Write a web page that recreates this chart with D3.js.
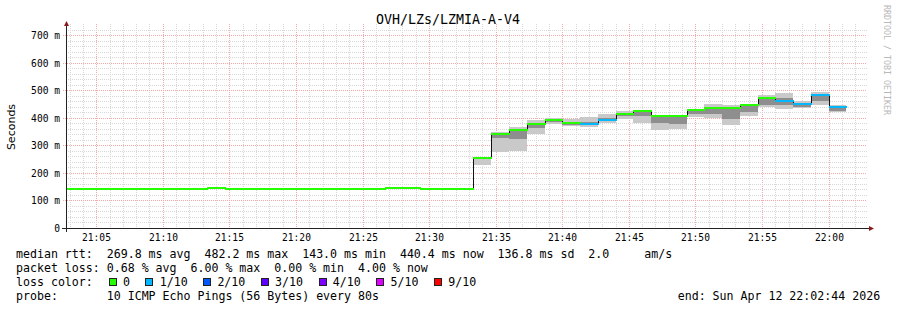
<!DOCTYPE html>
<html>
<head>
<meta charset="utf-8">
<script src="https://cdn.jsdelivr.net/npm/d3@7"></script>
<style>
  html, body { margin: 0; padding: 0; background: #fff; }
  svg { display: block; }
  text { font-family: "DejaVu Sans Mono", monospace; fill: #000; }
</style>
</head>
<body>
<div id="chart"></div>
<script>
const chartTitle = "OVH/LZs/LZMIA-A-V4";

// time window and 80 s steps
const windowStart = "21:02:44";
const windowEnd = "22:02:44";
const firstStep = "21:02:40";
const stepSeconds = 80;

// median rtt per step (ms)
const medianMs = [
  143, 143, 143, 143, 143, 143, 143, 143, 146, 143, 143, 143,
  143, 143, 143, 143, 143, 143, 145, 145, 143, 143, 143,
  253, 342, 357, 378, 390, 381, 377, 392, 415, 423, 406,
  408, 428, 437, 434, 446, 472, 459, 450, 482, 440
];
// loss bucket index per step (0 = no loss, 1 = 1/10 ...)
const lossLevel = [
  0, 0, 0, 0, 0, 0, 0, 0, 0, 0, 0, 0,
  0, 0, 0, 0, 0, 0, 0, 0, 0, 0, 0,
  0, 0, 0, 0, 0, 0, 1, 1, 0, 0, 0,
  0, 0, 0, 0, 0, 0, 1, 1, 1, 1
];
// smoke (ms): outer range and inner darker range, null = none
const smokeLo = [
  ...Array(23).fill(null),
  229, 277, 279, 341, 377, 370, 365, 382, 395, 380, 355,
  360, 404, 400, 373, 407, 439, 430, 434, 446, 420
];
const smokeHi = [
  ...Array(23).fill(null),
  255, 349, 365, 390, 400, 397, 404, 414, 425, 426, 410,
  410, 432, 449, 445, 450, 481, 491, 462, 493, 446
];
const coreLo = [
  ...Array(23).fill(null),
  null, 325, 323, 362, 384, 375, 372, 388, 405, 407, 380,
  378, 412, 415, 395, 422, 445, 445, 440, 460, 425
];
const coreHi = [
  ...Array(23).fill(null),
  null, 342, 355, 378, 390, 385, 385, 398, 415, 420, 406,
  406, 426, 437, 432, 446, 470, 470, 455, 482, 440
];

const yTicks = [0, 100, 200, 300, 400, 500, 600, 700];
const yTickLabels = ["0", "100 m", "200 m", "300 m", "400 m", "500 m", "600 m", "700 m"];
const xTicks = ["21:05", "21:10", "21:15", "21:20", "21:25", "21:30", "21:35", "21:40", "21:45", "21:50", "21:55", "22:00"];

const lossColors = ["#26ff00", "#00b8ff", "#0059ff", "#5e00ff", "#7e00ff", "#dd00ff", "#ff0000"];
const lossLabels = ["0", "1/10", "2/10", "3/10", "4/10", "5/10", "9/10"];

const legendRtt = "median rtt:  269.8 ms avg  482.2 ms max  143.0 ms min  440.4 ms now  136.8 ms sd  2.0     am/s";
const legendLoss = "packet loss: 0.68 % avg  6.00 % max  0.00 % min  4.00 % now";
const legendProbe = "probe:       10 ICMP Echo Pings (56 Bytes) every 80s";
const legendEnd = "end: Sun Apr 12 22:02:44 2026";
const watermark = "RRDTOOL / TOBI OETIKER";

const width = 897, height = 310;
const plot = { left: 66, right: 865, top: 24, bottom: 228 };

const parseHMS = d3.timeParse("%H:%M:%S");
const parseHM = d3.timeParse("%H:%M");
const keepSpaces = (s) => s.replace(/ /g, "\u00a0");

const x = d3.scaleTime()
  .domain([parseHMS(windowStart), parseHMS(windowEnd)])
  .range([plot.left, plot.right]);
const y = d3.scaleLinear().domain([0, 740]).range([plot.bottom, plot.top]);
const px = (v) => Math.round(v) + 0.5;

const svg = d3.select("#chart").append("svg")
  .attr("width", width).attr("height", height);
svg.append("rect").attr("width", width).attr("height", height).attr("fill", "#fff");

// grid
const grid = svg.append("g").attr("shape-rendering", "crispEdges");
const t0 = parseHMS(windowStart), t1 = parseHMS(windowEnd);
d3.timeMinute.every(1).range(t0, t1).forEach((t) => {
  const major = t.getMinutes() % 5 === 0;
  grid.append("line")
    .attr("x1", px(x(t))).attr("x2", px(x(t)))
    .attr("y1", plot.top).attr("y2", plot.bottom)
    .attr("stroke", major ? "#f4a8a8" : "#d8d8d8")
    .attr("stroke-dasharray", "1,1");
});
d3.range(20, 740, 20).forEach((v) => {
  const major = v % 100 === 0;
  grid.append("line")
    .attr("x1", major ? plot.left - 3 : plot.left).attr("x2", plot.right + 2)
    .attr("y1", px(y(v))).attr("y2", px(y(v)))
    .attr("stroke", major ? "#f4a8a8" : "#d8d8d8")
    .attr("stroke-dasharray", "1,1");
});

// steps
const steps = medianMs.map((m, i) => {
  const s = d3.timeSecond.offset(parseHMS(firstStep), i * stepSeconds);
  const e = d3.timeSecond.offset(s, stepSeconds);
  return {
    x0: Math.max(plot.left, x(s)), x1: x(e), median: m, loss: lossLevel[i],
    lo: smokeLo[i], hi: smokeHi[i], clo: coreLo[i], chi: coreHi[i]
  };
});

const smoke = svg.append("g").attr("shape-rendering", "crispEdges");
steps.filter((d) => d.lo !== null).forEach((d) => {
  smoke.append("rect")
    .attr("x", Math.round(d.x0)).attr("width", Math.round(d.x1) - Math.round(d.x0))
    .attr("y", Math.round(y(d.hi))).attr("height", Math.round(y(d.lo)) - Math.round(y(d.hi)))
    .attr("fill", "#c9c9c9");
});
steps.filter((d) => d.clo !== null).forEach((d) => {
  smoke.append("rect")
    .attr("x", Math.round(d.x0)).attr("width", Math.round(d.x1) - Math.round(d.x0))
    .attr("y", Math.round(y(d.chi))).attr("height", Math.round(y(d.clo)) - Math.round(y(d.chi)))
    .attr("fill", "#8e8e8e");
});

// black step line through medians
const linePts = steps.map((d) => [Math.round(d.x0), y(d.median)]);
linePts.push([Math.round(steps[steps.length - 1].x1), y(medianMs[medianMs.length - 1])]);
svg.append("path")
  .attr("d", d3.line().curve(d3.curveStepAfter)(linePts.map((p) => [p[0] + 0.5, px(p[1])])))
  .attr("fill", "none").attr("stroke", "#111").attr("stroke-width", 1)
  .attr("shape-rendering", "crispEdges");

// median band colored by loss
svg.append("g").attr("shape-rendering", "crispEdges")
  .selectAll("rect").data(steps).join("rect")
  .attr("x", (d) => Math.round(d.x0))
  .attr("width", (d) => Math.round(d.x1) - Math.round(d.x0) + 1)
  .attr("y", (d) => Math.round(y(d.median)) - 1)
  .attr("height", 2)
  .attr("fill", (d) => lossColors[d.loss]);

// axes
const axes = svg.append("g").attr("shape-rendering", "crispEdges");
axes.append("line").attr("x1", plot.left - 4).attr("x2", plot.right + 4)
  .attr("y1", plot.bottom + 0.5).attr("y2", plot.bottom + 0.5).attr("stroke", "#222");
axes.append("line").attr("x1", plot.left + 0.5).attr("x2", plot.left + 0.5)
  .attr("y1", plot.bottom + 4).attr("y2", plot.top - 1).attr("stroke", "#222");
svg.append("path").attr("d", `M${plot.left - 2},${plot.top + 2} L${plot.left + 3},${plot.top + 2} L${plot.left + 0.5},${plot.top - 3} Z`)
  .attr("fill", "#8b1a1a");
svg.append("path").attr("d", `M${plot.right + 4},${plot.bottom - 2} L${plot.right + 4},${plot.bottom + 3} L${plot.right + 9},${plot.bottom + 0.5} Z`)
  .attr("fill", "#8b1a1a");

// tick labels
svg.append("g").selectAll("text").data(yTicks).join("text")
  .attr("x", 60).attr("y", (d) => px(y(d)) + 3.5)
  .attr("text-anchor", "end").attr("font-size", "9.6px")
  .text((d, i) => keepSpaces(yTickLabels[i]));

svg.append("g").selectAll("text").data(xTicks).join("text")
  .attr("x", (d) => px(x(parseHM(d))))
  .attr("y", 241).attr("text-anchor", "middle").attr("font-size", "9.6px")
  .text((d) => d);

// titles
svg.append("text").attr("x", 448).attr("y", 24).attr("text-anchor", "middle")
  .attr("font-size", "13.3px").text(chartTitle);

svg.append("text")
  .attr("transform", `translate(15, 127) rotate(-90)`)
  .attr("text-anchor", "middle")
  .style("font-family", "'DejaVu Sans', sans-serif")
  .attr("font-size", "11px").text("Seconds");

svg.append("text")
  .attr("transform", `translate(884, 5) rotate(90)`)
  .attr("font-size", "8.3px").style("fill", "#b8b8b8")
  .text(keepSpaces(watermark));

// legend
const legend = svg.append("g").attr("font-size", "11.6px");
legend.append("text").attr("x", 16).attr("y", 257.5).text(keepSpaces(legendRtt));
legend.append("text").attr("x", 16).attr("y", 271.5).text(keepSpaces(legendLoss));
legend.append("text").attr("x", 16).attr("y", 285.5).text("loss color:");
legend.append("text").attr("x", 16).attr("y", 299.5).text(keepSpaces(legendProbe));
legend.append("text").attr("x", 677.7).attr("y", 299.5).text(keepSpaces(legendEnd));

let sx = 108.7;
lossLabels.forEach((label, i) => {
  legend.append("rect")
    .attr("x", Math.round(sx) + 0.5).attr("y", 278.5).attr("width", 7).attr("height", 7)
    .attr("fill", lossColors[i]).attr("stroke", "#222").attr("shape-rendering", "crispEdges");
  legend.append("text").attr("x", sx + 14.3).attr("y", 285.5).text(label);
  sx += (label.length + 4) * 7 + 1.7;
});
</script>
</body>
</html>
